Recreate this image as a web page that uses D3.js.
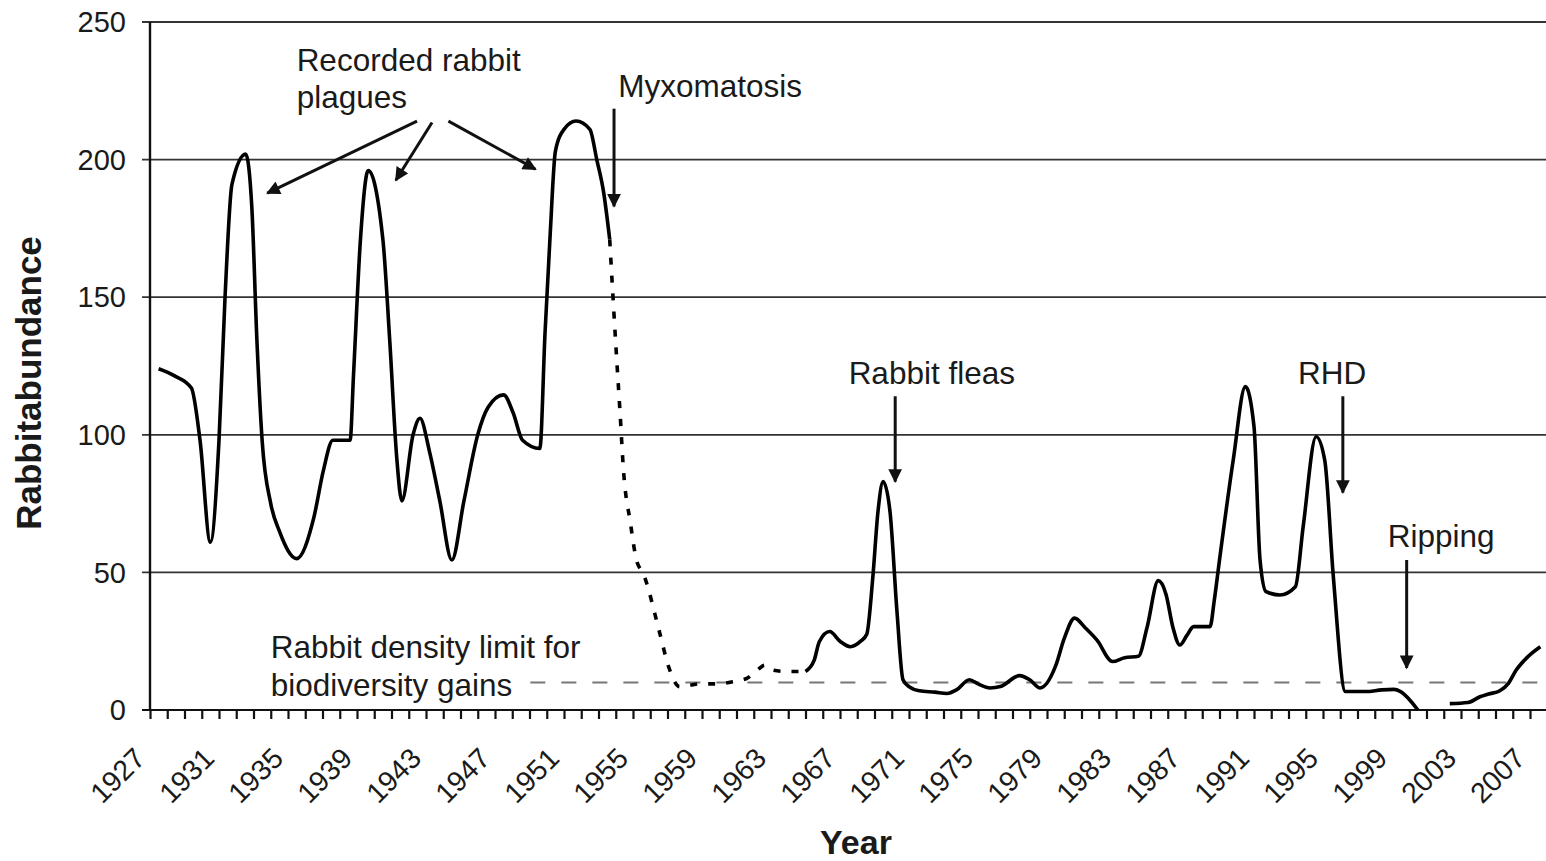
<!DOCTYPE html>
<html>
<head>
<meta charset="utf-8">
<script src="https://cdn.jsdelivr.net/npm/d3@7"></script>
<style>
  body { margin: 0; background: #fff; }
  svg text { font-family: "Liberation Sans", Arial, sans-serif; fill: #1a1a1a; }
</style>
</head>
<body>
<svg id="chart" width="1546" height="861"></svg>
<script>
// rabbit abundance (fractional years)
var plagueYears = [1927.5, 1928.4, 1929.4, 1929.9, 1930.5, 1931.0, 1931.35, 1931.75, 1932.55, 1932.9, 1933.2, 1933.5, 1934.0, 1934.5, 1935.5, 1936.5, 1937.05, 1937.6, 1938.6, 1938.8, 1939.2, 1939.65, 1940.5, 1940.9, 1941.3, 1941.6, 1942.25, 1942.65, 1943.2, 1943.8, 1944.5, 1945.2, 1946.0, 1946.6, 1947.5, 1948.05, 1948.6, 1949.6, 1949.9, 1950.2, 1950.5, 1951.0, 1951.7, 1952.5, 1952.9, 1953.3, 1953.65];
var plagueValues = [124, 121.5, 117, 98, 61, 98, 150, 191, 202, 183, 134, 98, 75, 65, 55, 70, 87, 98, 98, 122, 171, 196, 171, 134, 92, 76, 100, 106, 94, 76, 54.5, 76, 100, 110, 114.5, 108, 98, 95, 137, 173, 203, 211, 214, 211, 200, 188, 171];

var myxoYears = [1953.65, 1953.85, 1954.05, 1954.25, 1954.45, 1954.85, 1955.2, 1955.6, 1956.55, 1957.05, 1957.7, 1958.9, 1959.8, 1960.8, 1961.6, 1962.2, 1962.65, 1963.1, 1963.9, 1965.0];
var myxoValues = [171, 149, 128, 108, 87, 68, 54.5, 49.5, 28, 16, 8.5, 9.5, 9.5, 10.3, 11.5, 14.5, 16.3, 14.5, 14, 14];

var laterYears = [1965.0, 1965.5, 1965.8, 1966.4, 1967.0, 1967.6, 1968.2, 1968.55, 1968.9, 1969.2, 1969.5, 1969.9, 1970.3, 1970.65, 1971.0, 1971.6, 1972.5, 1973.2, 1973.75, 1974.5, 1975.0, 1975.7, 1976.3, 1977.4, 1978.0, 1978.6, 1979.5, 1980.0, 1980.6, 1981.2, 1981.9, 1982.8, 1983.5, 1984.3, 1984.8, 1985.45, 1985.9, 1986.3, 1986.7, 1987.1, 1987.5, 1988.45, 1988.7, 1989.0, 1989.8, 1990.5, 1991.0, 1991.35, 1991.7, 1992.5, 1993.4, 1993.85, 1994.6, 1995.1, 1995.6, 1996.3, 1997.5, 1998.4, 1999.1, 1999.5, 2000.5];
var laterValues = [14, 18, 24.8, 28.5, 25, 23, 25, 27.5, 48, 72, 83, 72, 36, 11, 8.5, 7, 6.5, 6, 7.3, 11, 9.5, 8, 8.5, 12.5, 11, 8, 16, 26, 33.4, 30, 25.4, 17.6, 19, 19.5, 30, 47, 42, 30, 23.6, 27, 30.3, 30.3, 40, 54.5, 91, 117.5, 103, 54.5, 43, 41.8, 44.8, 66.6, 99.3, 90.8, 48.4, 6.7, 6.7, 7.3, 7.5, 6.7, 0];

var recentYears = [2002.35, 2003.4, 2004.1, 2004.6, 2005.25, 2005.75, 2006.2, 2006.9, 2007.6];
var recentValues = [2.3, 2.7, 4.8, 5.8, 7, 9.7, 14.5, 19.5, 23];

var yTicks = [0, 50, 100, 150, 200, 250];
var yearLabels = d3.range(1927, 2008, 4);
var densityLimit = 10;

var chartW = 1546, chartH = 861;
var plotLeft = 150, plotTop = 22, plotBottom = 710;
var yearPx = 17.25;

var svg = d3.select("#chart");

var x = d3.scaleLinear().domain([1927, 2008]).range([plotLeft, plotLeft + 81 * yearPx]);
var y = d3.scaleLinear().domain([0, 250]).range([plotBottom, plotTop]);

// horizontal gridlines + y ticks
svg.append("g")
    .selectAll("line")
    .data(yTicks)
    .enter()
    .append("line")
    .attr("x1", plotLeft - 8)
    .attr("x2", chartW)
    .attr("y1", d => y(d))
    .attr("y2", d => y(d))
    .attr("stroke", d => d === 0 ? "#111" : "#333")
    .attr("stroke-width", d => d === 0 ? 2.2 : 1.8);

svg.append("g")
    .selectAll("text")
    .data(yTicks)
    .enter()
    .append("text")
    .attr("x", plotLeft - 24)
    .attr("y", d => y(d))
    .attr("dy", "0.35em")
    .attr("text-anchor", "end")
    .attr("font-size", 29)
    .text(d => d);

// x axis ticks every year
var xAxis = d3.axisBottom(x)
    .tickValues(d3.range(1927, 2009))
    .tickSize(9)
    .tickSizeOuter(0)
    .tickFormat("");
var gx = svg.append("g")
    .attr("transform", "translate(0," + plotBottom + ")")
    .call(xAxis);
gx.select(".domain").remove();
gx.selectAll(".tick line").attr("stroke", "#111").attr("stroke-width", 2.2);

svg.append("g")
    .selectAll("text")
    .data(yearLabels)
    .enter()
    .append("text")
    .attr("transform", d => "translate(" + (x(d) - 3) + "," + (plotBottom + 50) + ") rotate(-45)")
    .attr("text-anchor", "end")
    .attr("font-size", 28.5)
    .text(d => d);

// y axis line
svg.append("line")
    .attr("x1", plotLeft).attr("x2", plotLeft)
    .attr("y1", y(250)).attr("y2", plotBottom + 1)
    .attr("stroke", "#111").attr("stroke-width", 2.4);

// axis titles
svg.append("text")
    .attr("x", 856)
    .attr("y", 854)
    .attr("text-anchor", "middle")
    .attr("font-size", 34)
    .attr("font-weight", "bold")
    .text("Year");

svg.append("text")
    .attr("transform", "translate(41,383) rotate(-90)")
    .attr("text-anchor", "middle")
    .attr("font-size", 35)
    .attr("font-weight", "bold")
    .text("Rabbitabundance");

// density limit dashed line
svg.append("line")
    .attr("x1", x(1949.05))
    .attr("x2", chartW)
    .attr("y1", y(densityLimit))
    .attr("y2", y(densityLimit))
    .attr("stroke", "#777")
    .attr("stroke-width", 2.2)
    .attr("stroke-dasharray", "15,16");

// abundance series
var line = d3.line()
    .x(d => x(d[0]))
    .y(d => y(d[1]))
    .curve(d3.curveMonotoneX);

var segments = [
    { years: plagueYears, values: plagueValues, dash: null },
    { years: myxoYears, values: myxoValues, dash: "7,11" },
    { years: laterYears, values: laterValues, dash: null },
    { years: recentYears, values: recentValues, dash: null }
];

svg.append("g")
    .selectAll("path")
    .data(segments)
    .enter()
    .append("path")
    .attr("d", s => line(d3.zip(s.years, s.values)))
    .attr("fill", "none")
    .attr("stroke", "#000")
    .attr("stroke-width", 3.6)
    .attr("stroke-linejoin", "round")
    .attr("stroke-dasharray", s => s.dash);

// annotations
svg.append("defs").append("marker")
    .attr("id", "head")
    .attr("viewBox", "0 0 10 10")
    .attr("refX", 9)
    .attr("refY", 5)
    .attr("markerWidth", 4.8)
    .attr("markerHeight", 4.6)
    .attr("markerUnits", "strokeWidth")
    .attr("orient", "auto")
    .append("path")
    .attr("d", "M0,0 L10,5 L0,10 Z")
    .attr("fill", "#111");

var arrows = [
    [[1942.48, 214], [1933.8, 187.8]],
    [[1943.35, 213.5], [1941.25, 192.5]],
    [[1944.3, 214], [1949.35, 196.5]],
    [[1953.9, 218.5], [1953.9, 183]],
    [[1970.2, 114], [1970.2, 83]],
    [[1996.15, 114], [1996.15, 79]],
    [[1999.85, 54.5], [1999.85, 15.3]]
];

svg.append("g")
    .selectAll("line")
    .data(arrows)
    .enter()
    .append("line")
    .attr("x1", d => x(d[0][0]))
    .attr("y1", d => y(d[0][1]))
    .attr("x2", d => x(d[1][0]))
    .attr("y2", d => y(d[1][1]))
    .attr("stroke", "#111")
    .attr("stroke-width", 3)
    .attr("marker-end", "url(#head)");

var notes = [
    [1935.5, 232.3, "Recorded rabbit"],
    [1935.5, 218.8, "plagues"],
    [1954.15, 222.7, "Myxomatosis"],
    [1967.5, 118.5, "Rabbit fleas"],
    [1993.55, 118.5, "RHD"],
    [1998.75, 59.2, "Ripping"],
    [1934.0, 18.9, "Rabbit density limit for"],
    [1934.0, 5.1, "biodiversity gains"]
];

svg.append("g")
    .selectAll("text")
    .data(notes)
    .enter()
    .append("text")
    .attr("x", d => x(d[0]))
    .attr("y", d => y(d[1]))
    .attr("font-size", 31.5)
    .text(d => d[2]);
</script>
</body>
</html>
